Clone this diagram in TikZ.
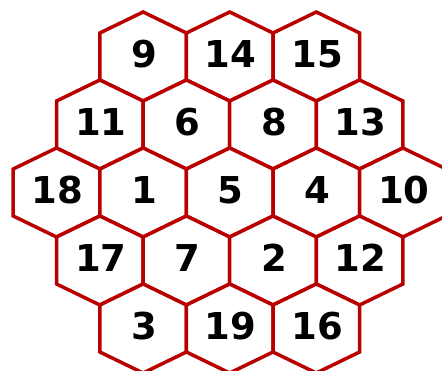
\documentclass[tikz,border=0pt]{standalone}
\usepackage{fontspec}
\usetikzlibrary{calc}
\newfontfamily\hexfont{DejaVu Sans}
\definecolor{hexred}{RGB}{185,0,0}
\begin{document}
\begin{tikzpicture}[x=1pt,y=-1pt,
  hexline/.style={draw=hexred,line width=3.5pt,line join=miter,fill=white},
  hexlabel/.style={font=\hexfont\bfseries\fontsize{37}{40}\selectfont,text=black,inner sep=0pt}]
\useasboundingbox[fill=white] (0,0) rectangle (442,371);
\def\hexW{43.3}
\def\hexS{23.5}
\def\hexT{44.5}
\foreach \cx/\cy/\lab in {
  143.1/56.5/9, 229.7/56.5/14, 316.3/56.5/15,
  99.8/124.5/11, 186.4/124.5/6, 273.0/124.5/8, 359.6/124.5/13,
  56.5/192.5/18, 143.1/192.5/1, 229.7/192.5/5, 316.3/192.5/4, 402.9/192.5/10,
  99.8/260.5/17, 186.4/260.5/7, 273.0/260.5/2, 359.6/260.5/12,
  143.1/328.5/3, 229.7/328.5/19, 316.3/328.5/16}{
  \draw[hexline] (\cx,\cy-\hexT) -- (\cx+\hexW,\cy-\hexS) -- (\cx+\hexW,\cy+\hexS)
    -- (\cx,\cy+\hexT) -- (\cx-\hexW,\cy+\hexS) -- (\cx-\hexW,\cy-\hexS) -- cycle;
  \node[hexlabel] (n\lab) at (\cx+1,\cy-2.5) {\lab};
}
\end{tikzpicture}
\end{document}
